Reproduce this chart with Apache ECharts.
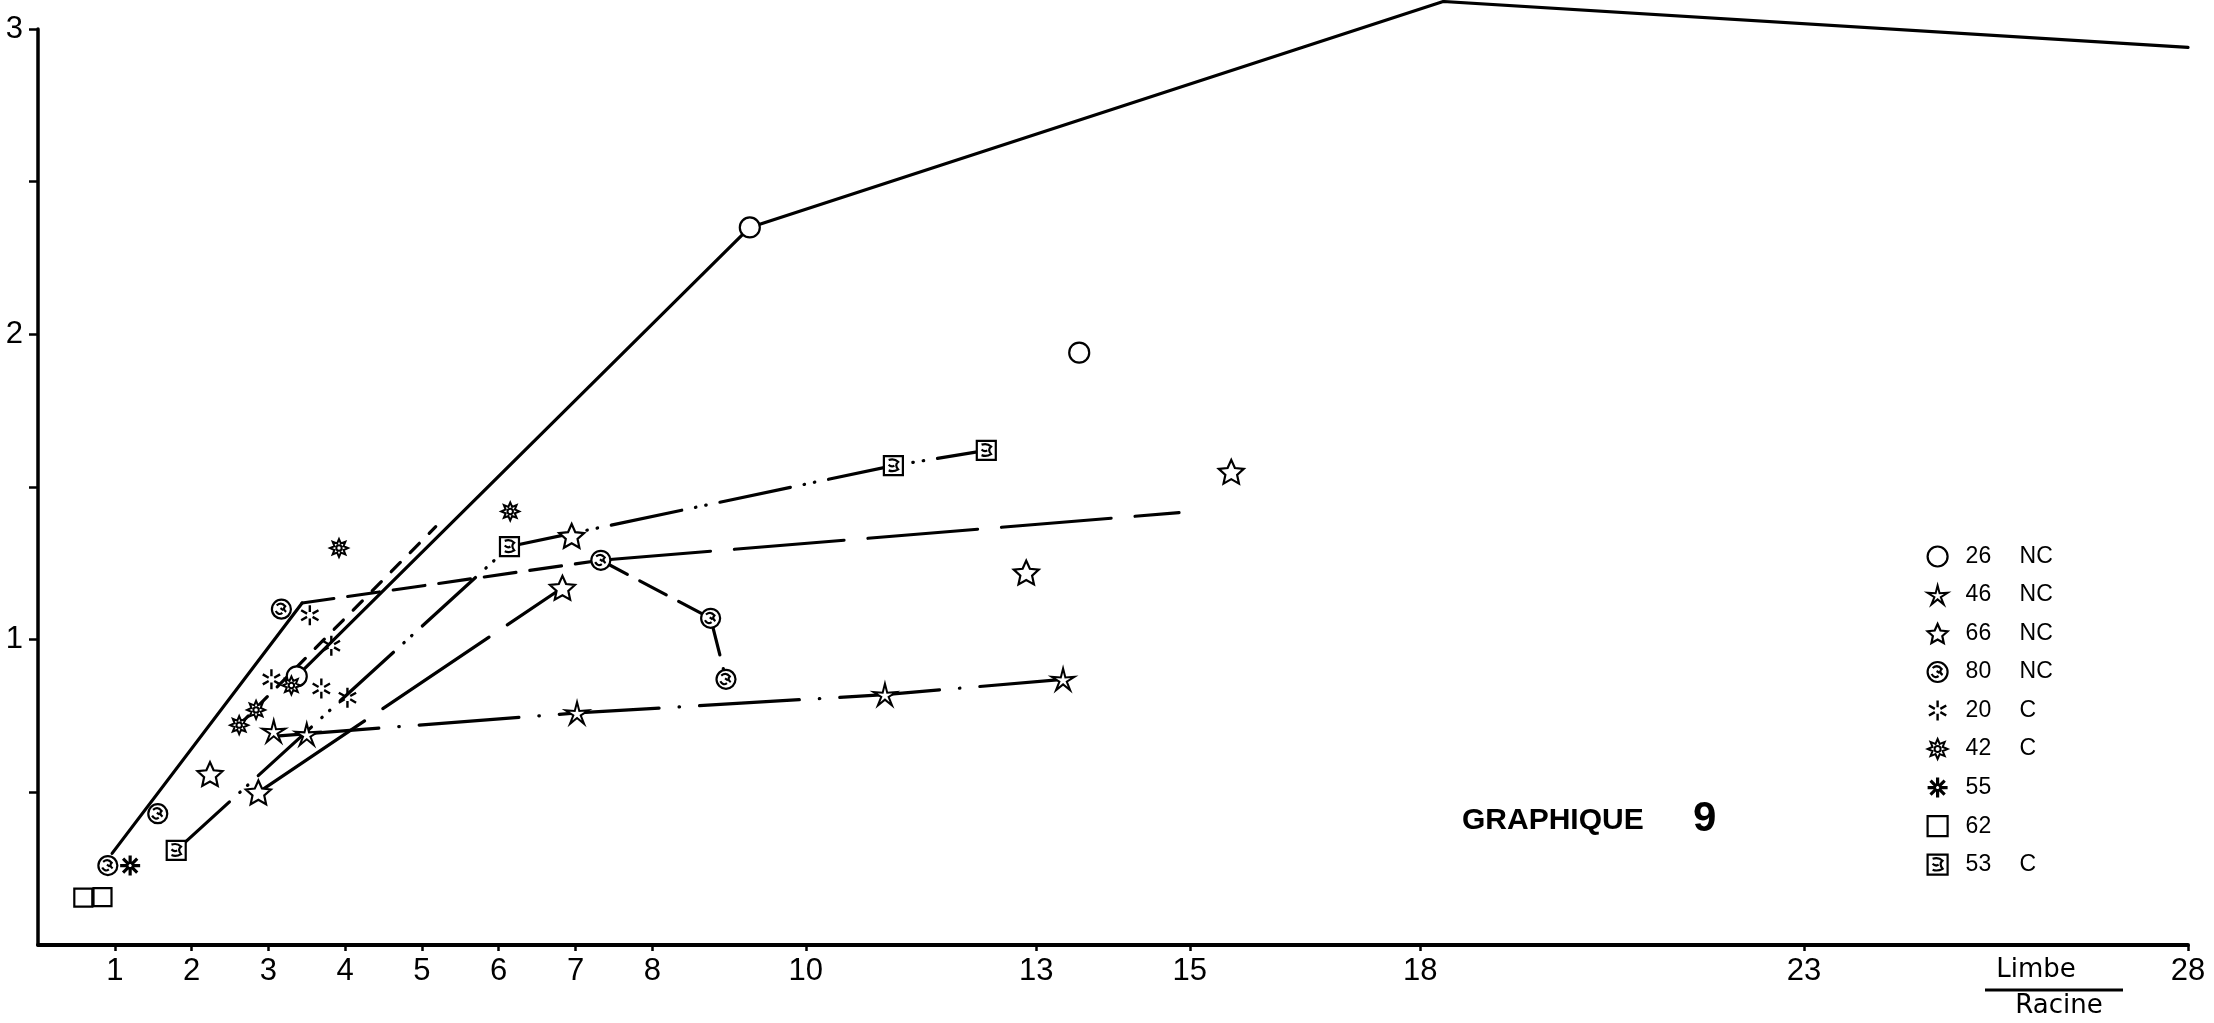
<!DOCTYPE html>
<html>
<head>
<meta charset="utf-8">
<script src="https://cdn.jsdelivr.net/npm/echarts@6/dist/echarts.min.js"></script>
<style>
  html, body { margin: 0; padding: 0; background: #ffffff; }
  #chart { width: 2214px; height: 1023px; }
</style>
</head>
<body>
<div id="chart"></div>
<script>
// Axis ticks and labels
const xTickLabels = [1, 2, 3, 4, 5, 6, 7, 8, 10, 13, 15, 18, 23, 28];
const yTickLabels = [1, 2, 3];
const yTickValues = [0.5, 1, 1.5, 2, 2.5, 3];

// Clones and their class (NC / C)
const clones = ['26', '46', '66', '80', '20', '42', '55', '62', '53'];
const classes = ['NC', 'NC', 'NC', 'NC', 'C', 'C', '', '', 'C'];

// Measured points, [Limbe/Racine, value]
const pts26 = [[3.37, 0.88], [9.27, 2.35], [13.56, 1.94]];
const pts46 = [[3.07, 0.70], [3.50, 0.69], [7.02, 0.76], [11.03, 0.82], [13.35, 0.87]];
const pts66 = [[2.24, 0.56], [2.87, 0.50], [6.83, 1.17], [6.95, 1.34], [12.87, 1.22], [15.54, 1.55]];
const pts80 = [[0.91, 0.26], [1.56, 0.43], [3.17, 1.10], [7.33, 1.26], [8.76, 1.07], [8.96, 0.87]];
const pts20 = [[3.54, 1.08], [3.82, 0.98], [3.04, 0.87], [3.69, 0.84], [4.03, 0.81]];
const pts42 = [[2.62, 0.72], [2.84, 0.77], [3.30, 0.85], [3.92, 1.30], [6.15, 1.42]];
const pts55 = [[1.20, 0.26]];
const pts62 = [[0.59, 0.155], [0.84, 0.157]];
const pts53 = [[1.80, 0.31], [6.14, 1.305], [11.14, 1.57], [12.35, 1.62]];

// Hand-drawn connecting lines (vertices)
const line26 = [[3.37, 0.88], [9.27, 2.35], [18.3, 3.09], [28.0, 2.94]];
const line46 = [[3.14, 0.685], [7.02, 0.76], [11.03, 0.82], [13.35, 0.87]];
const line66 = [[2.87, 0.50], [6.83, 1.17]];
const line80Rise = [[0.965, 0.30], [3.44, 1.12]];
const line80Mid = [[3.44, 1.12], [7.33, 1.26]];
const line80Far = [[7.33, 1.26], [14.86, 1.416]];
const line80Drop = [[7.33, 1.26], [8.76, 1.07], [8.96, 0.87]];
const line42 = [[2.62, 0.72], [5.18, 1.37]];
const line53 = [[1.80, 0.31], [6.14, 1.305], [11.14, 1.57], [12.35, 1.62]];

// ---- marker shapes ----
function starPath(n, inner) {
  let d = '';
  for (let i = 0; i < 2 * n; i++) {
    const r = i % 2 === 0 ? 10 : 10 * inner;
    const a = -Math.PI / 2 + i * Math.PI / n;
    d += (i === 0 ? 'M' : 'L') + (r * Math.cos(a)).toFixed(2) + ',' + (r * Math.sin(a)).toFixed(2) + ' ';
  }
  return d + 'Z';
}
function armsPath(n, r0) {
  let d = '';
  for (let i = 0; i < n; i++) {
    const a = -Math.PI / 2 + i * 2 * Math.PI / n;
    d += 'M' + (r0 * Math.cos(a)).toFixed(2) + ',' + (r0 * Math.sin(a)).toFixed(2) +
         ' L' + (10 * Math.cos(a)).toFixed(2) + ',' + (10 * Math.sin(a)).toFixed(2) + ' ';
  }
  return d;
}
const circ = (r) => 'M' + r + ',0 A' + r + ',' + r + ' 0 1,1 ' + (-r) + ',0 A' + r + ',' + r + ' 0 1,1 ' + r + ',0 Z ';

const symbols = {
  '26': 'circle',
  '46': 'path://' + starPath(5, 0.32),
  '66': 'path://' + starPath(5, 0.47),
  '80': 'path://' + circ(10) + 'M-5,-4 Q0,-8 4,-3 Q1,0 5,3 M-6,2 Q-3,7 1,4 M-1,-1 L2,1',
  '20': 'path://' + armsPath(6, 3.2),
  '42': 'path://' + starPath(8, 0.55) + ' ' + circ(3),
  '55': 'path://' + armsPath(8, 1.5),
  '62': 'rect',
  '53': 'path://M-10,-10 L10,-10 L10,10 L-10,10 Z M-5,-6 Q1,-8 5,-4 Q1,-1 5,4 Q0,7 -5,5 M-5,-1 Q-2,2 1,0'
};
const sizes = { '26': 20, '46': 23, '66': 25, '80': 19, '20': 20, '42': 18, '55': 20, '62': 18, '53': 19 };
const strokes = { '26': 2.2, '46': 2, '66': 2.2, '80': 2.2, '20': 2.4, '42': 2, '55': 3.2, '62': 2.2, '53': 2.2 };
const pointSets = { '26': pts26, '46': pts46, '66': pts66, '80': pts80, '20': pts20, '42': pts42, '55': pts55, '62': pts62, '53': pts53 };

const baseFont = "'Liberation Sans', Arial, Helvetica, sans-serif";

function lineSeries(name, data, width, dash) {
  return {
    name: name, type: 'line', data: data, showSymbol: false, symbol: 'none',
    clip: false, silent: true, z: 1,
    lineStyle: { color: '#000', width: width, type: dash, cap: 'round', join: 'round' }
  };
}

const series = [
  lineSeries('l26', line26, 3.2, 'solid'),
  lineSeries('l46', line46, 3.2, [100, 20, 0.5, 20]),
  lineSeries('l66', line66, 3.2, [128, 22]),
  lineSeries('l80a', line80Rise, 3.2, 'solid'),
  lineSeries('l80b', line80Mid, 3.2, [32, 14]),
  lineSeries('l80c', line80Far, 3.2, [110, 24]),
  lineSeries('l80d', line80Drop, 3.2, [30, 14]),
  lineSeries('l42', line42, 3.2, [13, 14]),
  lineSeries('l53', line53, 3.2, [72, 14, 0.5, 10, 0.5, 14])
];

clones.forEach(function (c) {
  series.push({
    name: c, type: 'scatter', data: pointSets[c],
    symbol: symbols[c], symbolSize: sizes[c], symbolKeepAspect: true,
    z: 3, silent: true,
    itemStyle: { color: '#ffffff', borderColor: '#000000', borderWidth: strokes[c], opacity: 1 }
  });
});

const chart = echarts.init(document.getElementById('chart'), null, { renderer: 'canvas' });
chart.setOption({
  backgroundColor: '#ffffff',
  animation: false,
  grid: { left: 38, right: 26, top: 29, bottom: 78, containLabel: false },
  xAxis: {
    type: 'value', min: 0, max: 28, interval: 1,
    axisLine: { lineStyle: { color: '#000', width: 4 } },
    axisTick: { show: true, customValues: xTickLabels, length: 6, lineStyle: { color: '#000', width: 2.5 } },
    axisLabel: { customValues: xTickLabels, margin: 11, color: '#000', fontSize: 31, fontFamily: baseFont },
    splitLine: { show: false }
  },
  yAxis: {
    type: 'value', min: 0, max: 3, interval: 0.5,
    axisLine: { show: true, lineStyle: { color: '#000', width: 3.5 } },
    axisTick: { show: true, customValues: yTickValues, length: 9, lineStyle: { color: '#000', width: 2.5 } },
    axisLabel: { customValues: yTickLabels, margin: 15, color: '#000', fontSize: 31, fontFamily: baseFont, padding: [0, 0, 16, 0] },
    splitLine: { show: false }
  },
  legend: {
    data: clones,
    orient: 'vertical',
    left: 1926, top: 545, padding: 0,
    itemWidth: 20, itemHeight: 20, itemGap: 15.5,
    selectedMode: false,
    itemStyle: { borderWidth: 'inherit' },
    formatter: function (name) {
      const i = clones.indexOf(name);
      return '{s| }{n|' + name + '}{t|' + classes[i] + '}';
    },
    textStyle: {
      color: '#000', fontSize: 23, fontFamily: baseFont,
      rich: {
        s: { width: 13, fontSize: 23, lineHeight: 24 },
        n: { width: 54, fontSize: 23, lineHeight: 24, fontFamily: baseFont, color: '#000' },
        t: { fontSize: 23, lineHeight: 24, fontFamily: baseFont, color: '#000' }
      }
    }
  },
  graphic: [
    { type: 'text', left: 1462, top: 806, style: { text: 'GRAPHIQUE', font: 'bold 30px ' + baseFont, fill: '#000' } },
    { type: 'text', left: 1693, top: 798, style: { text: '9', font: 'bold 42px ' + baseFont, fill: '#000' } },
    { type: 'text', x: 2036, y: 970, style: { text: 'Limbe', font: "26px 'DejaVu Sans', sans-serif", fill: '#000', align: 'center', verticalAlign: 'middle' } },
    { type: 'line', shape: { x1: 1985, y1: 990, x2: 2123, y2: 990 }, style: { stroke: '#000', lineWidth: 3 } },
    { type: 'text', x: 2059, y: 1006, style: { text: 'Racine', font: "26px 'DejaVu Sans', sans-serif", fill: '#000', align: 'center', verticalAlign: 'middle' } }
  ],
  series: series
});
</script>
</body>
</html>
